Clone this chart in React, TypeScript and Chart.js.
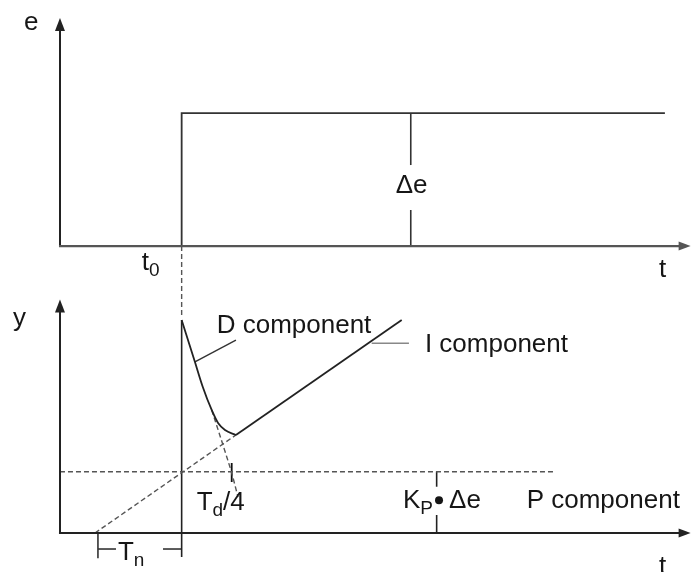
import React, { useEffect, useRef } from "react";
import { Chart, registerables } from "chart.js";

Chart.register(...registerables);

// ---------- data (time t in units of Tn, origin at the axes) ----------
const t0 = 1.41;
const tAxisEnd = 7.308;
const eAxisEnd = 1.714;
const yAxisEnd = 3.81;

// upper panel: control error e (units of Δe)
const eStepT = [1.41, 1.41, 7.01];
const eStepV = [0, 1, 1];
const deltaEMarkT = 4.065;
const deltaEMarkLow = [0, 0.271];
const deltaEMarkHigh = [0.609, 1];
const t0GuideV = [0, -0.541];

// lower panel: controller output y (units of Kp·Δe)
const dCurveT = [1.41, 1.564, 1.654, 1.758, 1.834, 1.912, 2.039];
const dCurveV = [3.475, 2.79, 2.387, 2.007, 1.79, 1.68, 1.599];
const iLineT = [2.039, 3.96];
const iLineV = [1.599, 3.475];
const iExtT = [0.406, 2.039];
const iExtV = [0, 1.599];
const dExtT = [1.758, 1.932, 1.99, 2.063];
const dExtV = [2.007, 1.245, 0.979, 0.587];
const pLevelT = [0, 5.736];
const pLevelV = [1, 1];
const t0LineV = [3.475, -0.39];
const kpMarkT = 4.365;
const kpMarkLow = [0, 0.294];
const kpMarkHigh = [0.755, 1];
const tdTickT = 1.99;
const tdTickV = [0.832, 1.142];
const tnTickT = [0.44, 1.41];
const tnTickV = [0, -0.41];
const tnBracketV = -0.261;
const tnBracketLeft = [0.44, 0.649];
const tnBracketRight = [1.194, 1.41];
const dLeaderT = [1.564, 2.039];
const dLeaderV = [2.79, 3.148];
const iLeaderT = [3.612, 4.044];
const iLeaderV = [3.095, 3.095];

const pts = (ts: number[], vs: number[]) => ts.map((t, i) => ({ x: t, y: vs[i] }));
const vline = (t: number, vs: number[]) => vs.map((v) => ({ x: t, y: v }));

type Part = { s?: string; sub?: boolean; dot?: boolean };
type Label = { axis: "yTop" | "yBot"; t: number; v: number; center?: boolean; parts: Part[] };

const labels: Label[] = [
  { axis: "yTop", t: -0.417, v: 1.624, parts: [{ s: "e" }] },
  { axis: "yTop", t: 4.075, v: 0.398, center: true, parts: [{ s: "\u0394e" }] },
  { axis: "yTop", t: 0.947, v: -0.18, parts: [{ s: "t" }, { s: "0", sub: true }] },
  { axis: "yTop", t: 6.941, v: -0.233, parts: [{ s: "t" }] },
  { axis: "yBot", t: -0.545, v: 3.377, parts: [{ s: "y" }] },
  { axis: "yBot", t: 1.816, v: 3.258, parts: [{ s: "D component" }] },
  { axis: "yBot", t: 4.229, v: 2.958, parts: [{ s: "I component" }] },
  { axis: "yBot", t: 1.584, v: 0.375, parts: [{ s: "T" }, { s: "d", sub: true }, { s: "/4" }] },
  { axis: "yBot", t: 3.975, v: 0.403, parts: [{ s: "K" }, { s: "P", sub: true }, { dot: true }, { s: "\u0394e" }] },
  { axis: "yBot", t: 5.408, v: 0.403, parts: [{ s: "P component" }] },
  { axis: "yBot", t: 0.672, v: -0.44, parts: [{ s: "T" }, { s: "n", sub: true }] },
  { axis: "yBot", t: 6.941, v: -0.669, parts: [{ s: "t" }] },
];

const FONT = "26px 'Liberation Sans', Arial, sans-serif";
const SUBFONT = "19px 'Liberation Sans', Arial, sans-serif";
const TEXT = "#161616";
const AXIS = "#222";

const overlay = {
  id: "overlay",
  afterDatasetsDraw(chart: any) {
    const ctx = chart.ctx as CanvasRenderingContext2D;
    const sx = chart.scales.x;
    const st = chart.scales.yTop;
    const sb = chart.scales.yBot;
    const X = (t: number) => sx.getPixelForValue(t);
    ctx.save();

    const axes = (sy: any, top: number, hColor: string) => {
      const x0 = X(0);
      const y0 = sy.getPixelForValue(0);
      const yTip = sy.getPixelForValue(top);
      const xTip = X(tAxisEnd);
      ctx.lineWidth = 2;
      ctx.strokeStyle = AXIS;
      ctx.fillStyle = AXIS;
      ctx.beginPath();
      ctx.moveTo(x0, y0);
      ctx.lineTo(x0, yTip + 10);
      ctx.stroke();
      ctx.beginPath();
      ctx.moveTo(x0, yTip);
      ctx.lineTo(x0 - 5, yTip + 13);
      ctx.lineTo(x0 + 5, yTip + 13);
      ctx.closePath();
      ctx.fill();
      ctx.strokeStyle = hColor;
      ctx.fillStyle = hColor;
      ctx.lineWidth = 2.2;
      ctx.beginPath();
      ctx.moveTo(x0 - 1, y0);
      ctx.lineTo(xTip - 9, y0);
      ctx.stroke();
      ctx.beginPath();
      ctx.moveTo(xTip, y0);
      ctx.lineTo(xTip - 12, y0 - 4.5);
      ctx.lineTo(xTip - 12, y0 + 4.5);
      ctx.closePath();
      ctx.fill();
    };
    axes(st, eAxisEnd, "#555");
    axes(sb, yAxisEnd, AXIS);

    ctx.fillStyle = TEXT;
    ctx.textBaseline = "alphabetic";
    ctx.textAlign = "left";
    for (const lb of labels) {
      const sy = lb.axis === "yTop" ? st : sb;
      const widths = lb.parts.map((p) => {
        if (p.dot) return 16;
        ctx.font = p.sub ? SUBFONT : FONT;
        return ctx.measureText(p.s || "").width;
      });
      const total = widths.reduce((a, b) => a + b, 0);
      let x = X(lb.t) - (lb.center ? total / 2 : 0);
      const y = sy.getPixelForValue(lb.v);
      lb.parts.forEach((p, i) => {
        if (p.dot) {
          ctx.beginPath();
          ctx.arc(x + 6, y - 8, 4, 0, Math.PI * 2);
          ctx.fill();
        } else {
          ctx.font = p.sub ? SUBFONT : FONT;
          ctx.fillText(p.s || "", x, p.sub ? y + 6 : y);
        }
        x += widths[i];
      });
    }
    ctx.restore();
  },
};

const solid = (data: any[], axis: string, color = "#2a2a2a", width = 1.6) => ({
  data,
  yAxisID: axis,
  borderColor: color,
  borderWidth: width,
  pointRadius: 0,
  tension: 0,
  fill: false,
  clip: false as any,
});
const dashed = (data: any[], axis: string) => ({
  ...solid(data, axis, "#555", 1.4),
  borderDash: [5, 3],
});

export default function App() {
  const ref = useRef<HTMLCanvasElement | null>(null);
  useEffect(() => {
    if (!ref.current) return;
    const chart = new Chart(ref.current, {
      type: "line",
      data: {
        datasets: [
          solid(pts(eStepT, eStepV), "yTop", "#333", 1.8),
          solid(vline(deltaEMarkT, deltaEMarkLow), "yTop", "#333", 1.6),
          solid(vline(deltaEMarkT, deltaEMarkHigh), "yTop", "#333", 1.6),
          dashed(vline(t0, t0GuideV), "yTop"),
          { ...solid(pts(dCurveT, dCurveV), "yBot", "#222", 1.8), cubicInterpolationMode: "monotone" },
          solid(pts(iLineT, iLineV), "yBot", "#222", 1.8),
          dashed(pts(iExtT, iExtV), "yBot"),
          { ...dashed(pts(dExtT, dExtV), "yBot"), cubicInterpolationMode: "monotone" },
          dashed(pts(pLevelT, pLevelV), "yBot"),
          solid(vline(t0, t0LineV), "yBot", "#222", 1.6),
          solid(vline(kpMarkT, kpMarkLow), "yBot", "#222", 1.6),
          solid(vline(kpMarkT, kpMarkHigh), "yBot", "#222", 1.6),
          solid(vline(tdTickT, tdTickV), "yBot", "#111", 1.8),
          solid(vline(tnTickT[0], tnTickV), "yBot", "#333", 1.6),
          solid(pts(tnBracketLeft, [tnBracketV, tnBracketV]), "yBot", "#333", 1.6),
          solid(pts(tnBracketRight, [tnBracketV, tnBracketV]), "yBot", "#333", 1.6),
          solid(pts(dLeaderT, dLeaderV), "yBot", "#333", 1.4),
          solid(pts(iLeaderT, iLeaderV), "yBot", "#888", 1.6),
        ] as any,
      },
      options: {
        animation: false,
        responsive: false,
        events: [],
        layout: { padding: 0 },
        plugins: { legend: { display: false }, tooltip: { enabled: false } },
        scales: {
          x: { type: "linear", min: -0.695, max: 7.324, display: false },
          yTop: { type: "linear", min: -2.451, max: 1.85, display: false },
          yBot: { type: "linear", min: -0.636, max: 8.695, display: false },
        },
      },
      plugins: [overlay],
    });
    return () => chart.destroy();
  }, []);
  return (
    <div style={{ position: "fixed", left: 0, top: 0, width: 692, height: 572, background: "#fff" }}>
      <canvas ref={ref} width={692} height={572} style={{ display: "block" }} />
    </div>
  );
}
